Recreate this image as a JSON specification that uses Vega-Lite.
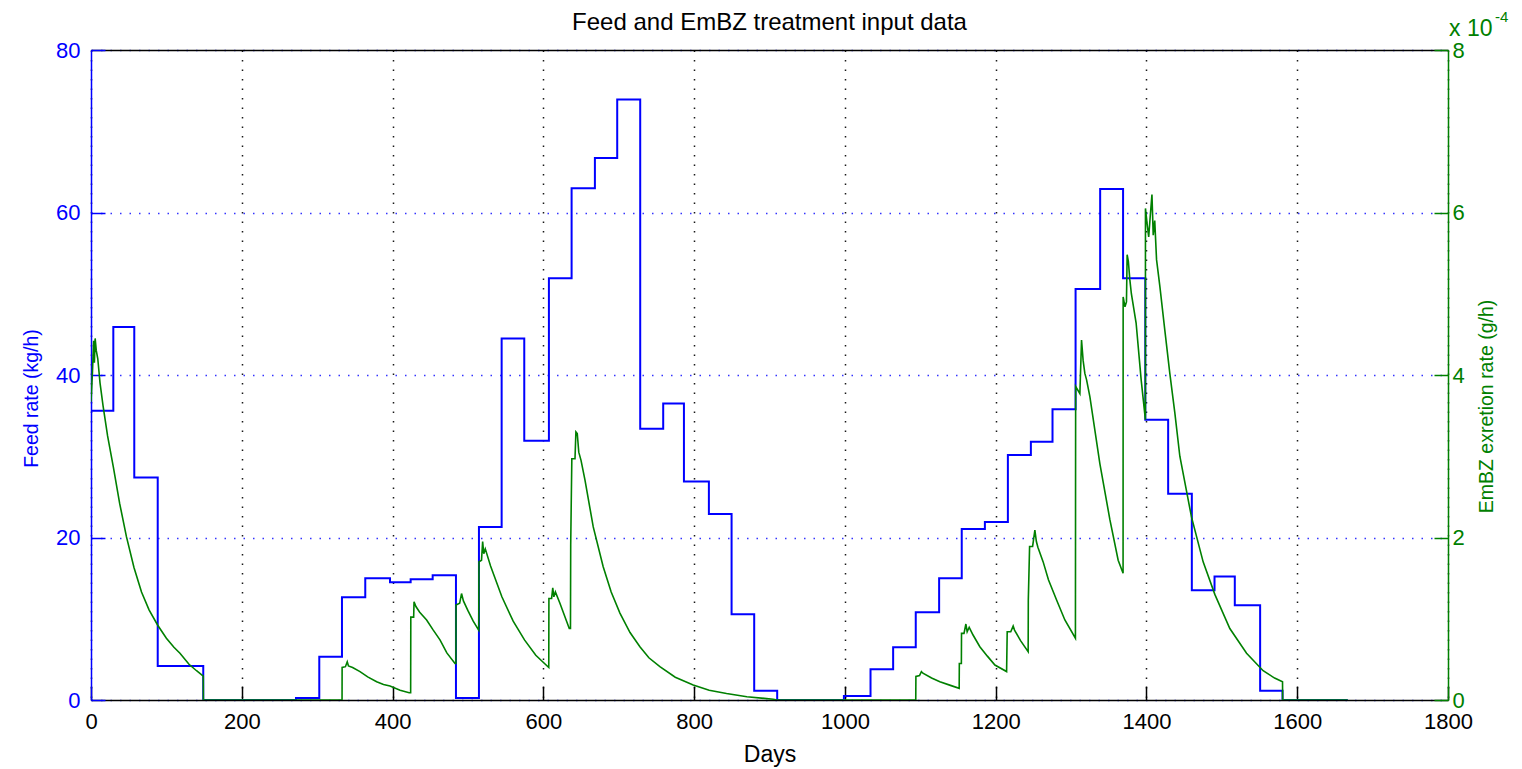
{
  "$schema": "https://vega.github.io/schema/vega-lite/v6.json",
  "width": 1357,
  "height": 650,
  "autosize": {"type": "none"},
  "padding": {"left": 91, "top": 50, "right": 74, "bottom": 69},
  "background": "white",
  "config": {
    "font": "Liberation Sans",
    "view": {"stroke": null},
    "axis": {"labelFlush": false, "labelOverlap": false, "titleFontWeight": "normal", "labelFontSize": 22, "titleFontSize": 19.5}
  },
  "title": {"text": "Feed and EmBZ treatment input data", "fontSize": 24, "fontWeight": "normal", "color": "black", "baseline": "alphabetic", "offset": 18, "dy": 62, "anchor": "middle"},
  "datasets": {
    "feed": [
      {"day": 0, "feed": 35.6}, {"day": 29.6, "feed": 45.9}, {"day": 57.4, "feed": 27.4}, {"day": 88.5, "feed": 4.18},
      {"day": 148.9, "feed": 0}, {"day": 271.9, "feed": 0.25}, {"day": 302.8, "feed": 5.33}, {"day": 332.9, "feed": 12.64},
      {"day": 363.8, "feed": 14.98}, {"day": 396.6, "feed": 14.49}, {"day": 424, "feed": 14.86}, {"day": 453.2, "feed": 15.35},
      {"day": 484.1, "feed": 0.25}, {"day": 514.6, "feed": 21.3}, {"day": 544.7, "feed": 44.5}, {"day": 574.7, "feed": 31.9},
      {"day": 607.4, "feed": 51.9}, {"day": 637.5, "feed": 63.0}, {"day": 668.4, "feed": 66.7}, {"day": 698, "feed": 73.9},
      {"day": 728.5, "feed": 33.4}, {"day": 759, "feed": 36.5}, {"day": 786.5, "feed": 26.9}, {"day": 819.6, "feed": 22.9},
      {"day": 849.7, "feed": 10.55}, {"day": 879.7, "feed": 1.14}, {"day": 910.2, "feed": 0}, {"day": 998.7, "feed": 0.49},
      {"day": 1034, "feed": 3.78}, {"day": 1064, "feed": 6.5}, {"day": 1094, "feed": 10.8}, {"day": 1125, "feed": 14.98},
      {"day": 1155, "feed": 21.05}, {"day": 1185.7, "feed": 21.9}, {"day": 1216.2, "feed": 30.15}, {"day": 1246.7, "feed": 31.8},
      {"day": 1275.4, "feed": 35.8}, {"day": 1306, "feed": 50.6}, {"day": 1338.6, "feed": 62.9}, {"day": 1369, "feed": 51.9},
      {"day": 1398.5, "feed": 34.5}, {"day": 1428.8, "feed": 25.4}, {"day": 1460.2, "feed": 13.5}, {"day": 1490.3, "feed": 15.2},
      {"day": 1517.2, "feed": 11.65}, {"day": 1550.8, "feed": 1.14}, {"day": 1580.5, "feed": 0}, {"day": 1667, "feed": 0}
    ],
    "embz": [
      {"day": 0, "rate": 3.67e-4}, {"day": 2, "rate": 4.05e-4}, {"day": 3.5, "rate": 4.42e-4}, {"day": 4.5, "rate": 4.15e-4},
      {"day": 5.5, "rate": 4.45e-4}, {"day": 7, "rate": 4.3e-4}, {"day": 9, "rate": 4.2e-4}, {"day": 12, "rate": 3.9e-4},
      {"day": 16, "rate": 3.62e-4}, {"day": 22, "rate": 3.25e-4}, {"day": 29.6, "rate": 2.87e-4}, {"day": 38, "rate": 2.42e-4},
      {"day": 47, "rate": 2.01e-4}, {"day": 57, "rate": 1.63e-4}, {"day": 67, "rate": 1.33e-4}, {"day": 77, "rate": 1.11e-4},
      {"day": 88.5, "rate": 0.92e-4}, {"day": 100, "rate": 0.76e-4}, {"day": 110, "rate": 0.65e-4}, {"day": 118, "rate": 0.575e-4},
      {"day": 130, "rate": 0.44e-4}, {"day": 140, "rate": 0.36e-4}, {"day": 148.9, "rate": 0.295e-4}, {"day": 149.1, "rate": 0},
      {"day": 333, "rate": 0}, {"day": 333.1, "rate": 0.40e-4}, {"day": 337.5, "rate": 0.41e-4}, {"day": 339.9, "rate": 0.47e-4},
      {"day": 341.5, "rate": 0.42e-4}, {"day": 347, "rate": 0.40e-4}, {"day": 356.8, "rate": 0.35e-4}, {"day": 367, "rate": 0.285e-4},
      {"day": 378.9, "rate": 0.225e-4}, {"day": 388, "rate": 0.19e-4}, {"day": 396.6, "rate": 0.172e-4}, {"day": 410, "rate": 0.12e-4},
      {"day": 422, "rate": 0.09e-4}, {"day": 424, "rate": 0.09e-4}, {"day": 424.2, "rate": 1.02e-4}, {"day": 428, "rate": 1.02e-4},
      {"day": 428.5, "rate": 1.21e-4}, {"day": 431, "rate": 1.15e-4}, {"day": 436, "rate": 1.08e-4}, {"day": 445.2, "rate": 0.985e-4},
      {"day": 454, "rate": 0.86e-4}, {"day": 462.9, "rate": 0.74e-4}, {"day": 472, "rate": 0.58e-4}, {"day": 482.8, "rate": 0.45e-4},
      {"day": 484, "rate": 0.45e-4}, {"day": 484.2, "rate": 1.17e-4}, {"day": 489, "rate": 1.19e-4}, {"day": 491.5, "rate": 1.31e-4},
      {"day": 494, "rate": 1.22e-4}, {"day": 500, "rate": 1.10e-4}, {"day": 507, "rate": 0.97e-4}, {"day": 514.3, "rate": 0.86e-4},
      {"day": 514.6, "rate": 1.70e-4}, {"day": 518, "rate": 1.72e-4}, {"day": 519.5, "rate": 1.95e-4}, {"day": 521, "rate": 1.80e-4},
      {"day": 523, "rate": 1.86e-4}, {"day": 530, "rate": 1.65e-4}, {"day": 545, "rate": 1.27e-4}, {"day": 560, "rate": 0.97e-4},
      {"day": 575, "rate": 0.74e-4}, {"day": 590, "rate": 0.55e-4}, {"day": 607.2, "rate": 0.40e-4}, {"day": 607.4, "rate": 1.25e-4},
      {"day": 611, "rate": 1.25e-4}, {"day": 612.5, "rate": 1.38e-4}, {"day": 614, "rate": 1.27e-4}, {"day": 616, "rate": 1.33e-4},
      {"day": 622, "rate": 1.19e-4}, {"day": 634.4, "rate": 0.88e-4}, {"day": 636, "rate": 0.88e-4}, {"day": 636.3, "rate": 1.91e-4},
      {"day": 637.8, "rate": 2.97e-4}, {"day": 642, "rate": 2.97e-4}, {"day": 643.2, "rate": 3.30e-4}, {"day": 645, "rate": 3.28e-4},
      {"day": 647, "rate": 3.05e-4}, {"day": 650, "rate": 2.95e-4}, {"day": 655.2, "rate": 2.71e-4}, {"day": 666.2, "rate": 2.13e-4},
      {"day": 679.4, "rate": 1.64e-4}, {"day": 690, "rate": 1.33e-4}, {"day": 701.6, "rate": 1.07e-4}, {"day": 715, "rate": 0.83e-4},
      {"day": 728.1, "rate": 0.655e-4}, {"day": 740, "rate": 0.52e-4}, {"day": 754.6, "rate": 0.41e-4}, {"day": 775, "rate": 0.28e-4},
      {"day": 798.8, "rate": 0.185e-4}, {"day": 820, "rate": 0.12e-4}, {"day": 843, "rate": 0.08e-4}, {"day": 870, "rate": 0.04e-4},
      {"day": 905, "rate": 0.01e-4}, {"day": 910, "rate": 0}, {"day": 1094, "rate": 0}, {"day": 1094.2, "rate": 0.29e-4},
      {"day": 1099, "rate": 0.30e-4}, {"day": 1101.5, "rate": 0.35e-4}, {"day": 1103.5, "rate": 0.33e-4}, {"day": 1115, "rate": 0.27e-4},
      {"day": 1126, "rate": 0.225e-4}, {"day": 1140, "rate": 0.18e-4}, {"day": 1151.6, "rate": 0.144e-4}, {"day": 1151.8, "rate": 0.45e-4},
      {"day": 1154.5, "rate": 0.45e-4}, {"day": 1154.7, "rate": 0.82e-4}, {"day": 1158, "rate": 0.82e-4}, {"day": 1160.5, "rate": 0.935e-4},
      {"day": 1162.2, "rate": 0.84e-4}, {"day": 1164.9, "rate": 0.895e-4}, {"day": 1170, "rate": 0.80e-4}, {"day": 1179, "rate": 0.656e-4},
      {"day": 1189, "rate": 0.54e-4}, {"day": 1199, "rate": 0.43e-4}, {"day": 1214.5, "rate": 0.35e-4}, {"day": 1215.3, "rate": 0.84e-4},
      {"day": 1220, "rate": 0.84e-4}, {"day": 1223.2, "rate": 0.91e-4}, {"day": 1225, "rate": 0.86e-4}, {"day": 1233, "rate": 0.73e-4},
      {"day": 1243.1, "rate": 0.595e-4}, {"day": 1243.3, "rate": 1.23e-4}, {"day": 1245, "rate": 1.89e-4}, {"day": 1249, "rate": 1.89e-4},
      {"day": 1252, "rate": 2.09e-4}, {"day": 1254, "rate": 1.95e-4}, {"day": 1256, "rate": 1.88e-4}, {"day": 1263, "rate": 1.70e-4},
      {"day": 1270, "rate": 1.48e-4}, {"day": 1280.8, "rate": 1.23e-4}, {"day": 1291.8, "rate": 0.985e-4}, {"day": 1305.8, "rate": 0.76e-4},
      {"day": 1306.1, "rate": 3.86e-4}, {"day": 1311.7, "rate": 3.77e-4}, {"day": 1313.9, "rate": 4.43e-4}, {"day": 1316, "rate": 4.18e-4},
      {"day": 1318.3, "rate": 4.02e-4}, {"day": 1320.6, "rate": 3.94e-4}, {"day": 1325, "rate": 3.73e-4}, {"day": 1338.2, "rate": 2.91e-4},
      {"day": 1351.5, "rate": 2.22e-4}, {"day": 1362.5, "rate": 1.72e-4}, {"day": 1369, "rate": 1.56e-4}, {"day": 1369.1, "rate": 4.96e-4},
      {"day": 1371.5, "rate": 4.84e-4}, {"day": 1373.5, "rate": 4.9e-4}, {"day": 1374.4, "rate": 5.48e-4}, {"day": 1376, "rate": 5.40e-4},
      {"day": 1378, "rate": 5.17e-4}, {"day": 1380, "rate": 5.0e-4}, {"day": 1386.3, "rate": 4.64e-4}, {"day": 1393, "rate": 3.94e-4},
      {"day": 1398.6, "rate": 3.45e-4}, {"day": 1398.7, "rate": 6.05e-4}, {"day": 1401, "rate": 5.85e-4}, {"day": 1403, "rate": 5.70e-4},
      {"day": 1405, "rate": 5.95e-4}, {"day": 1407.3, "rate": 6.22e-4}, {"day": 1409, "rate": 5.72e-4}, {"day": 1411, "rate": 5.9e-4},
      {"day": 1413.4, "rate": 5.42e-4}, {"day": 1417.8, "rate": 5.09e-4}, {"day": 1424.4, "rate": 4.55e-4}, {"day": 1431, "rate": 4.02e-4},
      {"day": 1437.7, "rate": 3.53e-4}, {"day": 1444.3, "rate": 3.0e-4}, {"day": 1459.8, "rate": 2.25e-4}, {"day": 1475.2, "rate": 1.70e-4},
      {"day": 1490.7, "rate": 1.30e-4}, {"day": 1510.6, "rate": 0.88e-4}, {"day": 1532.8, "rate": 0.575e-4}, {"day": 1554.8, "rate": 0.36e-4},
      {"day": 1570, "rate": 0.27e-4}, {"day": 1580.5, "rate": 0.225e-4}, {"day": 1580.7, "rate": 0}, {"day": 1667, "rate": 0}
    ],
    "notes": [
      {"day": 1800, "rate": 8e-4, "label": "x 10", "sup": "-4"}
    ]
  },
  "layer": [
    {
      "data": {"name": "feed"},
      "mark": {"type": "line", "interpolate": "step-after", "color": "#0000ff", "strokeWidth": 2, "clip": true},
      "encoding": {
        "x": {
          "field": "day", "type": "quantitative",
          "scale": {"domain": [0, 1800], "nice": false, "zero": false},
          "axis": {
            "orient": "bottom", "values": [0, 200, 400, 600, 800, 1000, 1200, 1400, 1600, 1800], "format": "d",
            "title": "Days", "titleColor": "black", "titleFontSize": 23, "titlePadding": 11,
            "labelColor": "black", "labelPadding": 25,
            "domainColor": "black", "domainWidth": 1.5,
            "tickColor": "black", "tickSize": -14, "tickWidth": 1.5,
            "grid": true, "gridColor": "black", "gridDash": [1.5, 8], "gridWidth": 1.5, "gridOpacity": 0.9
          }
        },
        "y": {
          "field": "feed", "type": "quantitative",
          "scale": {"domain": [0, 80], "nice": false},
          "axis": {
            "orient": "left", "values": [0, 20, 40, 60, 80],
            "title": "Feed rate (kg/h)", "titleColor": "#0000ff", "titleX": -60, "titleY": 348, "titleAlign": "center", "titleBaseline": "middle", "titleAngle": 270,
            "labelColor": "#0000ff", "labelPadding": 25,
            "domainColor": "#0000ff", "domainWidth": 1.5,
            "tickColor": "#0000ff", "tickSize": -14, "tickWidth": 1.5,
            "grid": true, "gridColor": "#0000ff", "gridDash": [1.5, 8], "gridWidth": 1.5, "gridOpacity": 0.8
          }
        }
      }
    },
    {
      "layer": [
        {
          "data": {"name": "embz"},
          "mark": {"type": "line", "color": "#008000", "strokeWidth": 1.6, "clip": true},
          "encoding": {
            "x": {
              "field": "day", "type": "quantitative",
              "axis": {"orient": "top", "labels": false, "ticks": false, "grid": false, "title": null, "domainColor": "black", "domainWidth": 1.5}
            },
            "y": {
              "field": "rate", "type": "quantitative",
              "scale": {"domain": [0, 0.0008], "nice": false},
              "axis": {
                "orient": "right", "values": [0, 0.0002, 0.0004, 0.0006, 0.0008],
                "labelExpr": "round(datum.value * 10000)",
                "title": "EmBZ exretion rate (g/h)", "titleColor": "#008000", "titleX": 38, "titleY": 356, "titleAlign": "center", "titleBaseline": "middle", "titleAngle": 270,
                "labelColor": "#008000", "labelPadding": 18,
                "domainColor": "#008000", "domainWidth": 1.5,
                "tickColor": "#008000", "tickSize": -14, "tickWidth": 1.5,
                "grid": false
              }
            }
          }
        },
        {
          "data": {"name": "notes"},
          "mark": {"type": "text", "align": "left", "baseline": "alphabetic", "dx": 1, "dy": -14, "fontSize": 23, "color": "#008000"},
          "encoding": {
            "x": {"field": "day", "type": "quantitative"},
            "y": {"field": "rate", "type": "quantitative"},
            "text": {"field": "label"}
          }
        },
        {
          "data": {"name": "notes"},
          "mark": {"type": "text", "align": "left", "baseline": "alphabetic", "dx": 47, "dy": -28, "fontSize": 15, "color": "#008000"},
          "encoding": {
            "x": {"field": "day", "type": "quantitative"},
            "y": {"field": "rate", "type": "quantitative"},
            "text": {"field": "sup"}
          }
        }
      ]
    }
  ],
  "resolve": {"scale": {"y": "independent"}, "axis": {"y": "independent", "x": "independent"}}
}
